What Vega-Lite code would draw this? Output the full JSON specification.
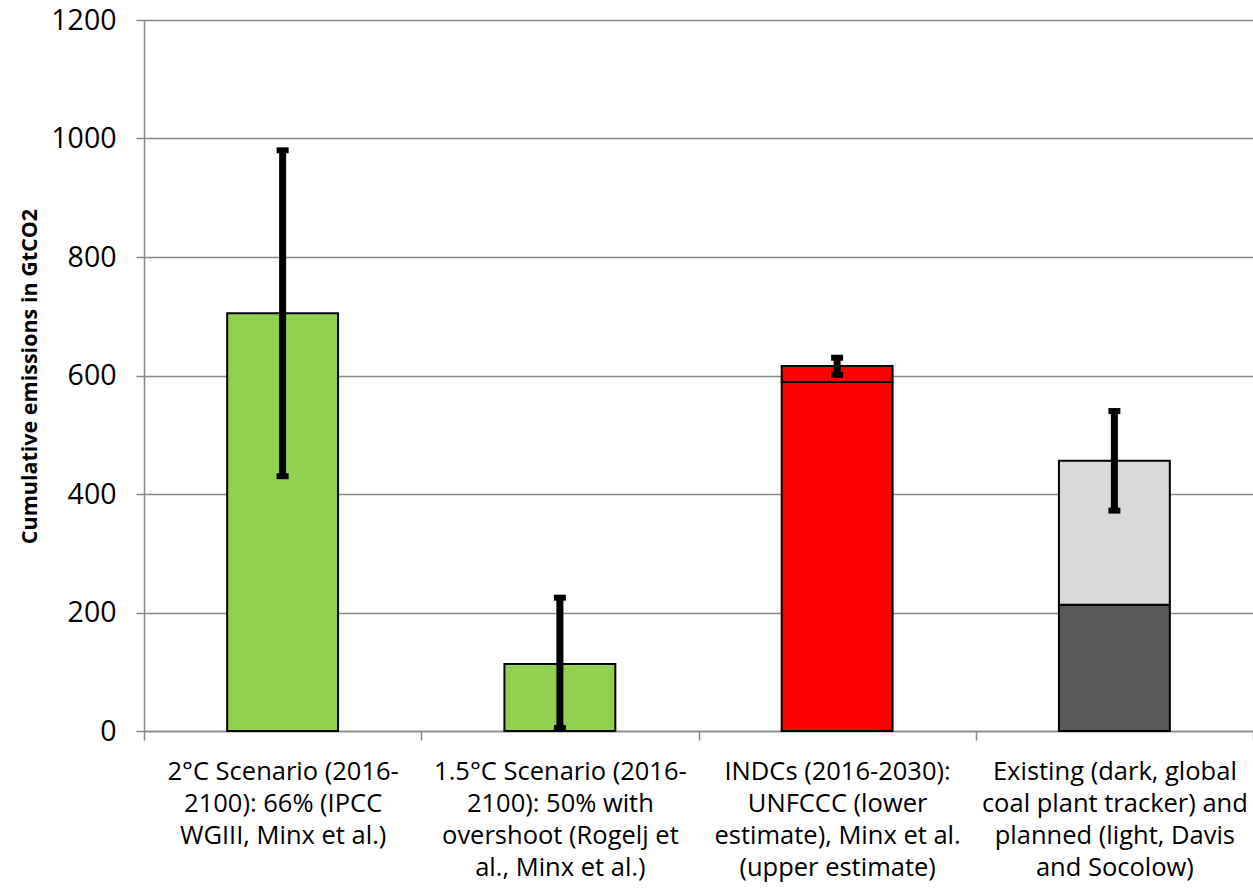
{
  "$schema": "https://vega.github.io/schema/vega-lite/v6.json",
  "width": 1109,
  "height": 711,
  "autosize": "none",
  "padding": {"left": 144, "top": 20, "right": 0, "bottom": 159},
  "background": "white",
  "config": {"view": {"stroke": null}, "font": "Open Sans"},
  "datasets": {
    "bars": [
      {"category": "2°C Scenario (2016-|2100): 66% (IPCC|WGIII, Minx et al.)", "segment": "Scenario budget", "low": 0, "high": 705},
      {"category": "1.5°C Scenario (2016-|2100): 50% with|overshoot (Rogelj et|al., Minx et al.)", "segment": "Scenario budget", "low": 0, "high": 113},
      {"category": "INDCs (2016-2030):|UNFCCC (lower|estimate), Minx et al.|(upper estimate)", "segment": "INDCs UNFCCC (lower)", "low": 0, "high": 589},
      {"category": "INDCs (2016-2030):|UNFCCC (lower|estimate), Minx et al.|(upper estimate)", "segment": "INDCs Minx et al. (upper)", "low": 589, "high": 616},
      {"category": "Existing (dark, global|coal plant tracker) and|planned (light, Davis|and Socolow)", "segment": "Existing", "low": 0, "high": 213},
      {"category": "Existing (dark, global|coal plant tracker) and|planned (light, Davis|and Socolow)", "segment": "Planned", "low": 213, "high": 456}
    ],
    "errors": [
      {"category": "2°C Scenario (2016-|2100): 66% (IPCC|WGIII, Minx et al.)", "lo": 430, "hi": 980},
      {"category": "1.5°C Scenario (2016-|2100): 50% with|overshoot (Rogelj et|al., Minx et al.)", "lo": 5, "hi": 225},
      {"category": "INDCs (2016-2030):|UNFCCC (lower|estimate), Minx et al.|(upper estimate)", "lo": 601, "hi": 630},
      {"category": "Existing (dark, global|coal plant tracker) and|planned (light, Davis|and Socolow)", "lo": 372, "hi": 540}
    ]
  },
  "encoding": {
    "x": {
      "field": "category",
      "type": "nominal",
      "sort": null,
      "scale": {"paddingInner": 0, "paddingOuter": 0},
      "axis": {
        "title": null,
        "labelExpr": "isValid(datum.value) ? split(datum.value, '|') : ''",
        "labelAngle": 0,
        "labelFontSize": 25.5,
        "labelColor": "#000000",
        "labelLineHeight": 32,
        "labelBaseline": "top",
        "labelPadding": 19,
        "labelLimit": 0,
        "labelOverlap": false,
        "tickBand": "extent",
        "tickSize": 9,
        "tickColor": "#898989",
        "tickWidth": 1.5,
        "domainColor": "#898989",
        "domainWidth": 1.5,
        "grid": false
      }
    }
  },
  "layer": [
    {
      "data": {"name": "bars"},
      "mark": {"type": "bar", "width": {"band": 0.4}, "stroke": "#000000", "strokeWidth": 2},
      "encoding": {
        "y": {
          "field": "low",
          "type": "quantitative",
          "scale": {"domain": [0, 1200], "nice": false},
          "axis": {
            "title": "Cumulative emissions in GtCO2",
            "titleFontSize": 21.5,
            "titleFontWeight": "bold",
            "titleColor": "#000000",
            "titleX": -114,
            "titleY": 356,
            "titleBaseline": "middle",
            "values": [0, 200, 400, 600, 800, 1000, 1200],
            "format": "d",
            "labelFontSize": 28.5,
            "labelColor": "#000000",
            "labelPadding": 20,
            "tickSize": 8,
            "tickColor": "#898989",
            "tickWidth": 1.5,
            "domainColor": "#898989",
            "domainWidth": 1.5,
            "grid": true,
            "gridColor": "#898989",
            "gridWidth": 1.5
          }
        },
        "y2": {"field": "high"},
        "color": {
          "field": "segment",
          "type": "nominal",
          "scale": {
            "domain": ["Scenario budget", "INDCs UNFCCC (lower)", "INDCs Minx et al. (upper)", "Existing", "Planned"],
            "range": ["#92D050", "#FF0000", "#FF0000", "#595959", "#D9D9D9"]
          },
          "legend": null
        }
      }
    },
    {
      "data": {"name": "errors"},
      "mark": {"type": "rule", "color": "#000000", "strokeWidth": 7},
      "encoding": {
        "y": {"field": "lo", "type": "quantitative"},
        "y2": {"field": "hi"}
      }
    },
    {
      "data": {"name": "errors"},
      "mark": {"type": "tick", "color": "#000000", "size": 12, "thickness": 6, "opacity": 1},
      "encoding": {
        "y": {"field": "lo", "type": "quantitative"}
      }
    },
    {
      "data": {"name": "errors"},
      "mark": {"type": "tick", "color": "#000000", "size": 12, "thickness": 6, "opacity": 1},
      "encoding": {
        "y": {"field": "hi", "type": "quantitative"}
      }
    }
  ]
}
